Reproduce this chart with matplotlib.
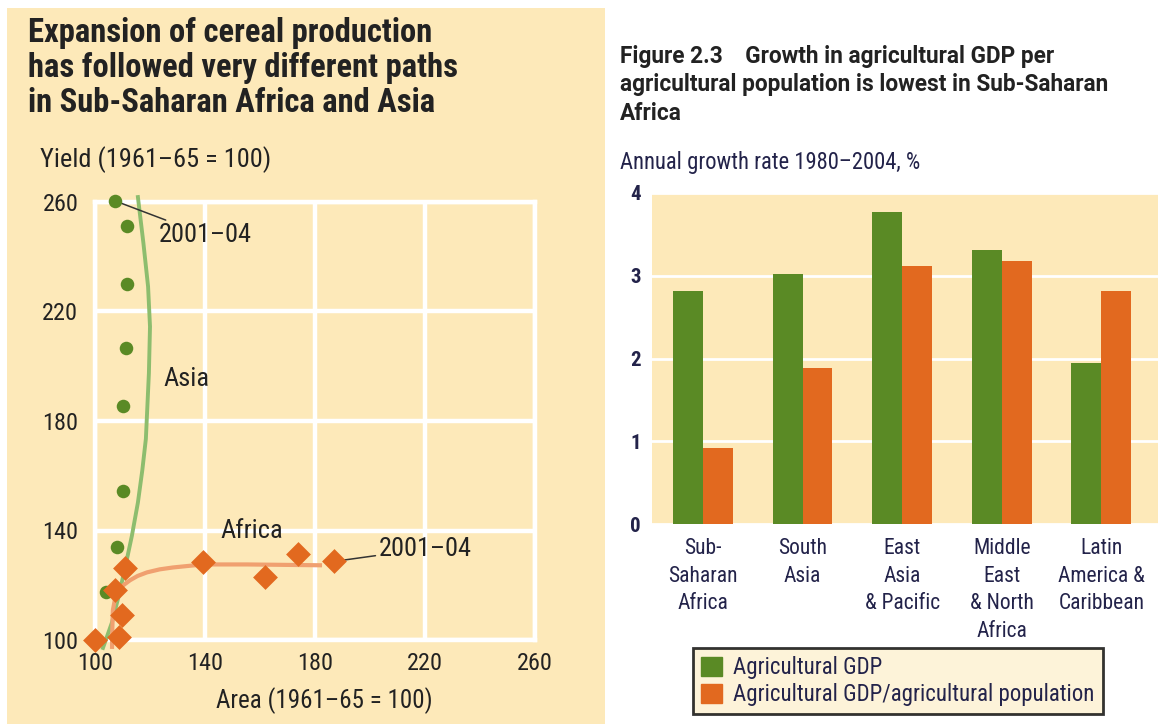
""" Cereal expansion + agricultural GDP growth, two panel figure """

import matplotlib
matplotlib.use('Agg')
import matplotlib.pyplot as plt
from matplotlib.patches import Rectangle, Patch

plt.rcParams['font.family'] = ['Roboto Condensed', 'PT Sans Narrow', 'DejaVu Sans']

# * Datos panel izquierdo (area, rendimiento; 1961-65 = 100)
asia_area = [107.3, 111.8, 111.5, 111.1, 110.2, 110.2, 108.0, 104.0]
asia_yield = [260.4, 251.3, 230.2, 206.5, 185.5, 154.5, 133.8, 117.5]
asia_trend_area = [115.6, 117.6, 119.3, 120.0, 119.6, 118.5, 117.2, 115.6, 113.4, 110.9, 108.6, 106.2, 102.9]
asia_trend_yield = [261.8, 245.0, 229.1, 214.5, 197.5, 173.5, 162.0, 150.2, 138.0, 126.2, 116.0, 106.5, 97.1]

africa_area = [100.0, 108.7, 109.8, 107.3, 110.9, 139.3, 161.8, 173.8, 186.9]
africa_yield = [100.0, 101.1, 109.1, 118.2, 126.2, 128.4, 122.9, 131.3, 128.7]
africa_trend_area = [106.2, 106.3, 106.5, 107.2, 108.4, 110.3, 112.7, 115.5, 118.9, 123.5, 128.4, 139.3, 155.3, 181.8]
africa_trend_yield = [97.5, 104.0, 110.9, 114.6, 117.5, 120.0, 121.8, 123.4, 124.7, 125.8, 126.5, 127.6, 127.6, 127.3]

left_ticks = [100, 140, 180, 220, 260]

titulo_izq = ['Expansion of cereal production', 'has followed very different paths',
              'in Sub-Saharan Africa and Asia']
titulo_der = ['Figure 2.3    Growth in agricultural GDP per',
              'agricultural population is lowest in Sub-Saharan', 'Africa']

# * Datos panel derecho (crecimiento anual 1980-2004, %)
regiones = ['Sub-\nSaharan\nAfrica', 'South\nAsia', 'East\nAsia\n& Pacific',
            'Middle\nEast\n& North\nAfrica', 'Latin\nAmerica &\nCaribbean']
gdp_agricola = [2.82, 3.02, 3.77, 3.31, 1.95]
gdp_por_poblacion = [0.92, 1.88, 3.12, 3.18, 2.82]
right_ticks = [0, 1, 2, 3, 4]

BEIGE = '#fde9b9'
GREEN = '#5a8a25'
ORANGE = '#e2691f'
GREEN_LINE = '#8dbd6e'
ORANGE_LINE = '#f0a070'
TXT = '#222222'
TXT_R = '#23234a'

W, H = 1161, 724
fig = plt.figure(figsize=(W / 100, H / 100), dpi=100)
fig.patch.set_facecolor('white')

def fx(px):
    return px / W

def fy(py):
    return 1 - py / H

# * Fondo beige del panel izquierdo
fig.patches.append(Rectangle((fx(7), 0), fx(598), fy(8), transform=fig.transFigure,
                             facecolor=BEIGE, edgecolor='none', zorder=-5))

for i, linea in enumerate(titulo_izq):
    fig.text(fx(28), fy(33 + 35 * i), linea, fontsize=23.5, fontweight='bold', color=TXT,
             va='center', ha='left')
fig.text(fx(40), fy(160), 'Yield (1961\u201365 = 100)', fontsize=19, color=TXT, va='center', ha='left')

ax1 = fig.add_axes([fx(95), fy(640), fx(440), (640 - 202) / H])
ax1.set_facecolor(BEIGE)
ax1.set_xlim(100, 260)
ax1.set_ylim(100, 260)
ax1.set_xticks(left_ticks)
ax1.set_yticks(left_ticks)
ax1.grid(True, color='white', linewidth=3.2)
for s in ax1.spines.values():
    s.set_color('white')
    s.set_linewidth(3.2)
ax1.tick_params(length=0, labelsize=17.5, colors=TXT)
ax1.tick_params(axis='y', pad=12)
ax1.tick_params(axis='x', pad=9)
ax1.set_axisbelow(True)

ax1.plot(asia_trend_area, asia_trend_yield, color=GREEN_LINE, lw=2.8, zorder=3, clip_on=False)
ax1.plot(africa_trend_area, africa_trend_yield, color=ORANGE_LINE, lw=3.0, zorder=3, clip_on=False)
ax1.scatter(asia_area, asia_yield, s=95, color=GREEN, zorder=4, clip_on=False, linewidths=0)
ax1.scatter(africa_area, africa_yield, s=160, marker='D', color=ORANGE, zorder=5, clip_on=False, linewidths=0)

ax1.annotate('2001\u201304', xy=(asia_area[0], asia_yield[0]), xytext=(123.0, 248.0),
             fontsize=19, color=TXT, va='center', ha='left', annotation_clip=False,
             arrowprops=dict(arrowstyle='-', color='#333333', lw=1.1, shrinkA=0, shrinkB=2))
ax1.annotate('2001\u201304', xy=(africa_area[-1], africa_yield[-1]), xytext=(203.0, 133.3),
             fontsize=19, color=TXT, va='center', ha='left', annotation_clip=False,
             arrowprops=dict(arrowstyle='-', color='#333333', lw=1.1, shrinkA=0, shrinkB=6))
ax1.text(125.0, 195.3, 'Asia', fontsize=19, color=TXT, va='center', ha='left')
ax1.text(157.0, 139.8, 'Africa', fontsize=19, color=TXT, va='center', ha='center')

fig.text(fx(324), fy(701), 'Area (1961\u201365 = 100)', fontsize=18, color=TXT, va='center', ha='center')

# * Panel derecho: barras
for i, linea in enumerate(titulo_der):
    fig.text(fx(620), fy(57 + 28 * i), linea, fontsize=16.3, fontweight='bold', color=TXT,
             va='center', ha='left', family=['Roboto', 'DejaVu Sans'])
fig.text(fx(620), fy(163), 'Annual growth rate 1980\u20132004, %', fontsize=16.3, color=TXT_R, va='center', ha='left')

ax2 = fig.add_axes([fx(652), fy(524), fx(506), (524 - 193) / H])
ax2.set_facecolor(BEIGE)
x = range(len(regiones))
ancho = 0.30
ax2.bar([i - ancho / 2 for i in x], gdp_agricola, width=ancho, color=GREEN, zorder=3)
ax2.bar([i + ancho / 2 for i in x], gdp_por_poblacion, width=ancho, color=ORANGE, zorder=3)
ax2.set_xlim(-0.513, 4.57)
ax2.set_ylim(0, 4)
ax2.set_yticks(right_ticks)
ax2.set_xticks(list(x))
ax2.set_xticklabels(regiones, fontsize=15.5, color=TXT_R, linespacing=1.42, va='top')
ax2.yaxis.grid(True, color='white', linewidth=2)
ax2.set_axisbelow(True)
for s in ax2.spines.values():
    s.set_visible(False)
ax2.tick_params(axis='x', length=0, pad=10)
ax2.tick_params(axis='y', length=0, labelsize=15, colors=TXT_R, pad=8)
for lbl in ax2.get_yticklabels():
    lbl.set_fontweight('bold')

leg = fig.legend([Patch(color=GREEN), Patch(color=ORANGE)],
                 ['Agricultural GDP', 'Agricultural GDP/agricultural population'],
                 loc='upper left', bbox_to_anchor=(fx(693), fy(648)), fontsize=16.5,
                 frameon=True, fancybox=False, handlelength=0.9, handleheight=0.9,
                 handletextpad=0.5, labelspacing=0.18, borderpad=0.35, borderaxespad=0)
leg.get_frame().set_edgecolor('black')
leg.get_frame().set_linewidth(2)
leg.get_frame().set_facecolor('#fdf0d0')
for t in leg.get_texts():
    t.set_color(TXT_R)

fig.savefig('out.png', dpi=100)
